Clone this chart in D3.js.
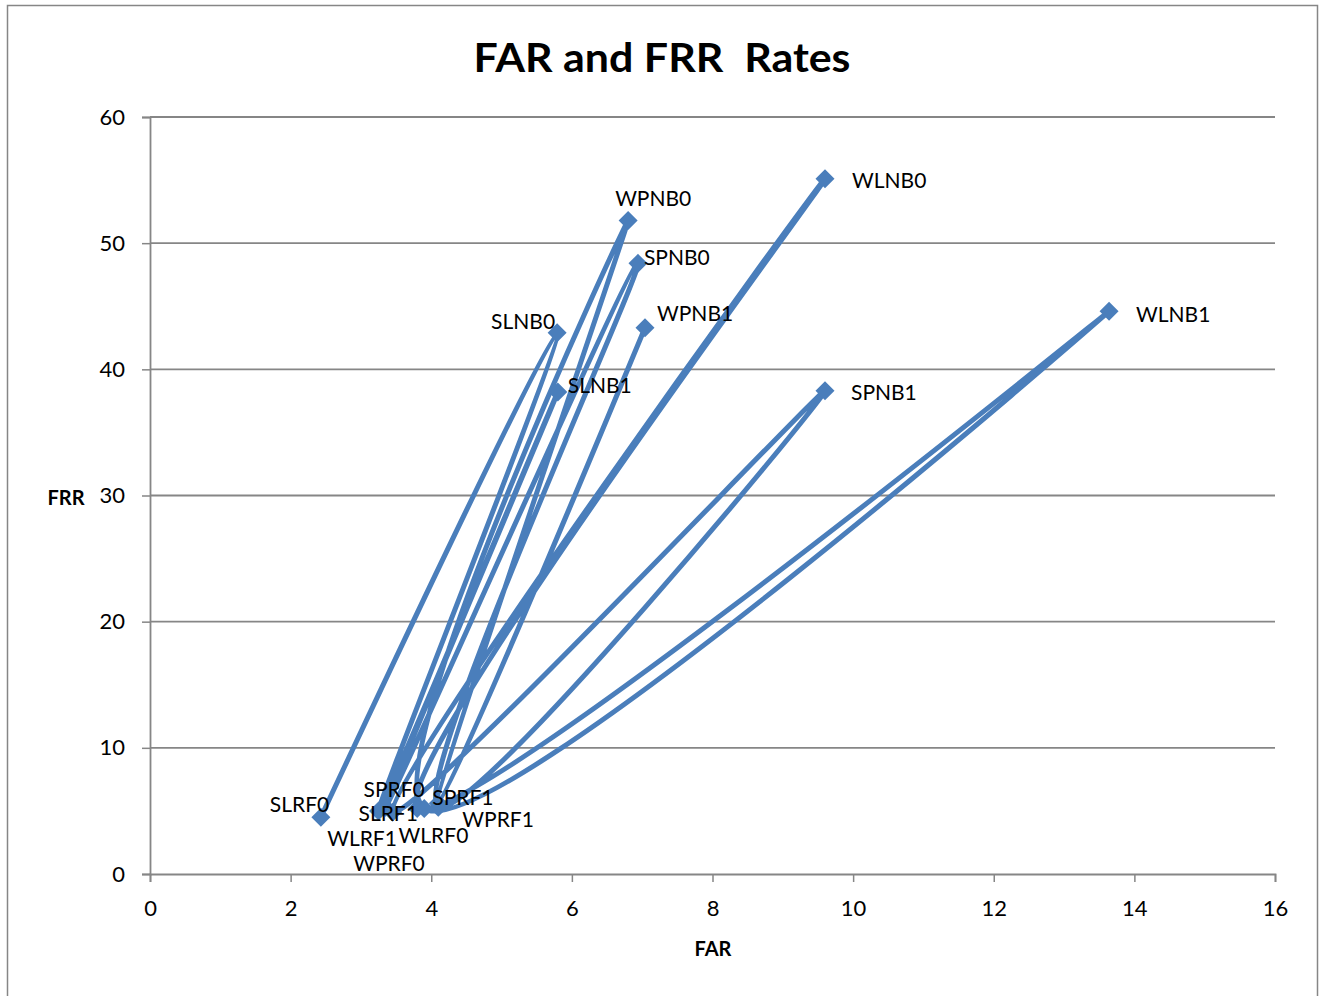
<!DOCTYPE html>
<html>
<head>
<meta charset="utf-8">
<script src="https://cdn.jsdelivr.net/npm/d3@7"></script>
<style>
  html, body { margin: 0; padding: 0; background: #fff; }
  svg { display: block; }
  text { font-family: Lato, "Open Sans", sans-serif; }
</style>
</head>
<body>
<svg id="chart" width="1321" height="996"></svg>
<script>
// Technique names, in the order the series visits them
const names = [
  "SLRF0", "SLNB0", "SLRF1", "SLNB1",
  "SPRF0", "SPNB0", "SPRF1", "SPNB1",
  "WLRF0", "WLNB0", "WLRF1", "WLNB1",
  "WPRF0", "WPNB0", "WPRF1", "WPNB1"
];
// False acceptance rate (%)
const farValues = [
  2.43, 5.79, 3.25, 5.80,
  3.35, 6.94, 4.10, 9.60,
  3.45, 9.60, 3.80, 13.64,
  3.90, 6.80, 4.10, 7.04
];
// False rejection rate (%)
const frrValues = [
  4.5, 42.9, 5.0, 38.2,
  5.3, 48.4, 5.3, 38.3,
  4.9, 55.1, 5.2, 44.6,
  5.2, 51.8, 5.6, 43.3
];
const xTicks = [0, 2, 4, 6, 8, 10, 12, 14, 16];
const yTicks = [0, 10, 20, 30, 40, 50, 60];

// Where each data label sits relative to its marker: [dx to text start, dy to text middle]
const labelNudge = {
  SLRF0: [-51, -14], SLNB0: [-66, -12], SLRF1: [-20, 2],  SLNB1: [10, -8],
  SPRF0: [-22, -19], SPNB0: [6, -7],    SPRF1: [-6, -11], SPNB1: [26, 1],
  WLRF0: [6, 22],    WLNB0: [27, 1],    WLRF1: [-90, 29], WLNB1: [27, 2],
  WPRF0: [-71, 54],  WPNB0: [-13, -23], WPRF1: [24, 15],  WPNB1: [12, -15]
};

const points = names.map((n, i) => ({ name: n, far: farValues[i], frr: frrValues[i] }));

const svg = d3.select("#chart");
const blue = "#4a7ebb";
const gray = "#868686";

// Outer chart frame
svg.append("rect")
  .attr("x", 7.5).attr("y", 5.5)
  .attr("width", 1310).attr("height", 1010)
  .attr("fill", "#fff").attr("stroke", gray).attr("stroke-width", 1.5);

const x = d3.scaleLinear().domain([0, 16]).range([150, 1275]);
const y = d3.scaleLinear().domain([0, 60]).range([874, 117]);

// Horizontal gridlines
svg.append("g")
  .selectAll("line")
  .data(yTicks.filter(v => v > 0))
  .join("line")
  .attr("x1", x(0)).attr("x2", x(16))
  .attr("y1", d => y(d)).attr("y2", d => y(d))
  .attr("stroke", gray).attr("stroke-width", 1.8);

// Axes
const xAxis = svg.append("g")
  .attr("transform", `translate(0,${y(0)})`)
  .call(d3.axisBottom(x).tickValues(xTicks).tickSize(8).tickPadding(18).tickFormat(d3.format("d")));
const yAxis = svg.append("g")
  .attr("transform", `translate(${x(0)},0)`)
  .call(d3.axisLeft(y).tickValues(yTicks).tickSize(8).tickPadding(17).tickFormat(d3.format("d")));

[xAxis, yAxis].forEach(g => {
  g.select(".domain").attr("stroke", gray).attr("stroke-width", 1.8);
  g.selectAll(".tick line").attr("stroke", gray).attr("stroke-width", 1.5);
  g.selectAll(".tick text")
    .attr("fill", "#000")
    .style("font-family", "Lato, sans-serif")
    .style("font-size", "22px");
});

// Smoothed connecting line
const line = d3.line()
  .x(d => x(d.far))
  .y(d => y(d.frr))
  .curve(d3.curveCatmullRom.alpha(0.5));

svg.append("path")
  .datum(points)
  .attr("d", line)
  .attr("fill", "none")
  .attr("stroke", blue)
  .attr("stroke-width", 5)
  .attr("stroke-linejoin", "round");

// Diamond markers
const r = 9.5;
svg.append("g")
  .selectAll("path")
  .data(points)
  .join("path")
  .attr("transform", d => `translate(${x(d.far)},${y(d.frr)})`)
  .attr("d", `M0,${-r}L${r},0L0,${r}L${-r},0Z`)
  .attr("fill", blue);

// Data labels
svg.append("g")
  .selectAll("text")
  .data(points)
  .join("text")
  .attr("x", d => x(d.far) + labelNudge[d.name][0])
  .attr("y", d => y(d.frr) + labelNudge[d.name][1])
  .attr("dominant-baseline", "central")
  .style("font-size", "21px")
  .attr("fill", "#000")
  .text(d => d.name);

// Title
svg.append("text")
  .attr("x", 662).attr("y", 72)
  .attr("text-anchor", "middle")
  .attr("xml:space", "preserve")
  .style("white-space", "pre")
  .style("font-size", "40px").style("font-weight", "bold")
  .attr("textLength", 377).attr("lengthAdjust", "spacingAndGlyphs")
  .text("FAR and FRR  Rates");

// Axis titles
svg.append("text")
  .attr("x", 713).attr("y", 948)
  .attr("text-anchor", "middle").attr("dominant-baseline", "central")
  .style("font-size", "20px").style("font-weight", "bold")
  .text("FAR");

svg.append("text")
  .attr("x", 66).attr("y", 497)
  .attr("text-anchor", "middle").attr("dominant-baseline", "central")
  .style("font-size", "20px").style("font-weight", "bold")
  .text("FRR");
</script>
</body>
</html>
